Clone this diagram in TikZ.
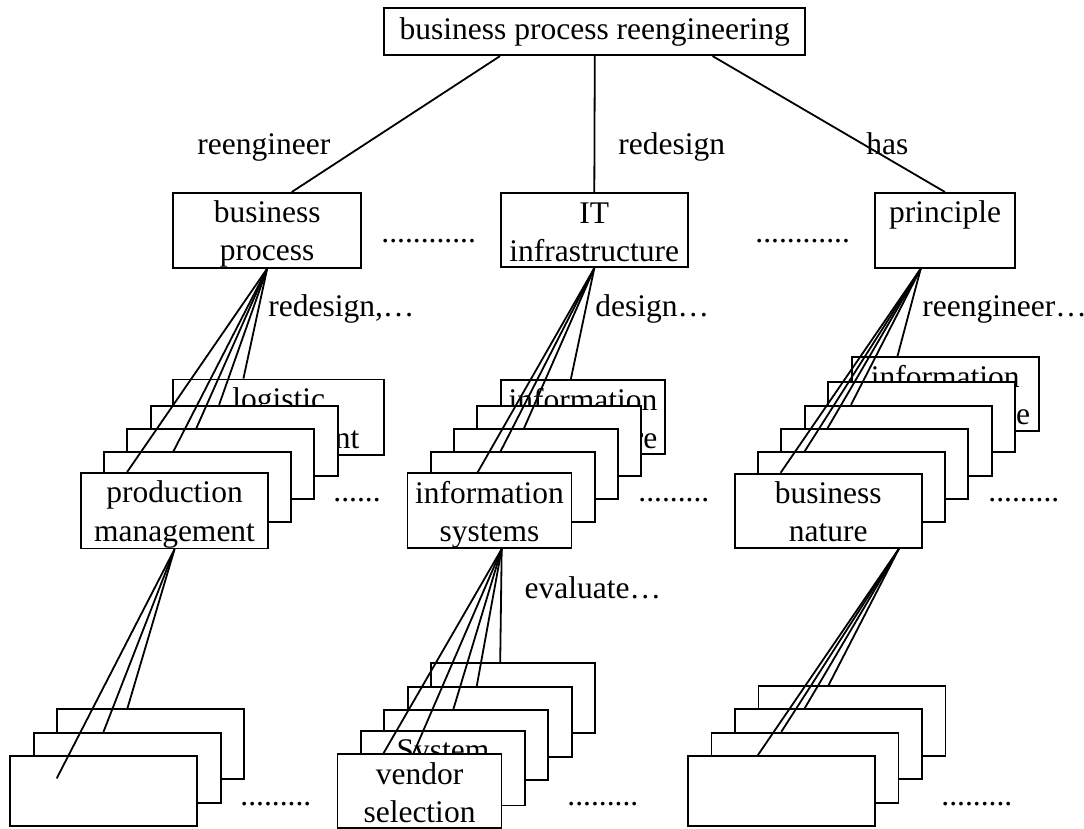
\documentclass[tikz,border=0pt]{standalone}
\usepackage{fontspec}
\setmainfont{Liberation Serif}
\usetikzlibrary{calc}
\newcommand\bs{\rule[-3pt]{0pt}{18pt}}
\tikzset{
  txt/.style={font=\fontsize{15.75pt}{17pt}\selectfont},
  box/.style={txt, draw, fill=white, line width=0.9pt, inner sep=0pt,
              minimum height=35pt, align=center},
  wa/.style={minimum width=93.5pt},
  wb/.style={minimum width=82pt},
  wc/.style={minimum width=105.5pt},
  lbl/.style={txt, inner sep=0pt, anchor=base west},
  conn/.style={line width=0.9pt},
}
\begin{document}
\begin{tikzpicture}[x=0.5pt,y=-0.5pt]
\useasboundingbox (0,0) rectangle (1084,829);
% top
\node[box, minimum width=210.5pt, minimum height=23.5pt] (top) at (594.8,31.7) {business process reengineering};
% level 2
\node[box, minimum width=94pt] (bp) at (267.2,230.3) {\bs business\\\bs process};
\node[box, minimum width=93.3pt] (it) at (594.3,230.3) {\bs IT\\\bs infrastructure};
\node[box, minimum width=70pt] (pr) at (945,230.3) {\bs principle\\\bs};
% level 3 left
\node[box, wc] (L1) at (278.8,417.3) {\bs logistic\\\bs management};
\node[box, wa] (L2) at (244.2,440.7) {};
\node[box, wa] (L3) at (220.8,464) {};
\node[box, wa] (L4) at (197.5,487.3) {};
\node[box, wa] (L5) at (174.5,510.7) {\bs production\\\bs management};
% level 3 middle
\node[box, wb] (M1) at (583,417.3) {\bs information\\\bs architecture};
\node[box, wb] (M2) at (559.3,440.7) {};
\node[box, wb] (M3) at (536.3,464) {};
\node[box, wb] (M4) at (512.7,487.3) {};
\node[box, wb] (M5) at (489.5,510.7) {\bs information\\\bs systems};
% level 3 right
\node[box, wa] (R1) at (945.3,394) {\bs information\\\bs infrastructure};
\node[box, wa] (R2) at (921.7,417.3) {};
\node[box, wa] (R3) at (898.7,440.7) {};
\node[box, wa] (R4) at (874.7,464) {};
\node[box, wa] (R5) at (851.7,487.3) {};
\node[box, wa] (R6) at (828.3,510.7) {\bs business\\\bs nature};
% level 4 left
\node[box, wa] (LL1) at (150.8,744.3) {};
\node[box, wa] (LL2) at (127.2,767.7) {};
\node[box, wa] (LL3) at (103.8,791) {};
% level 4 middle
\node[box, wb] (MM1) at (512.8,698.3) {};
\node[box, wb] (MM2) at (489.7,721.7) {};
\node[box, wb] (MM3) at (466.3,745) {};
\node[box, wb] (MM4) at (443,768) {\bs System\\\bs};
\node[box, wb] (MM5) at (419.5,791) {\bs vendor\\\bs selection};
% level 4 right
\node[box, wa] (RR1) at (852,721) {};
\node[box, wa] (RR2) at (828.3,744.3) {};
\node[box, wa] (RR3) at (805,767.7) {};
\node[box, wa] (RR4) at (781.7,791) {};
% labels
\node[lbl] (t1) at (197,155) {reengineer};
\node[lbl] (t2) at (618,155) {redesign};
\node[lbl] (t3) at (866,155) {has};
\node[lbl] (t4) at (268,317) {redesign,…};
\node[lbl] (t5) at (595,317) {design…};
\node[lbl] (t6) at (922,317) {reengineer…};
\node[lbl] (t7) at (524.3,598.3) {evaluate…};
% dots
\node[lbl] (d1) at (381,243) {............};
\node[lbl] (d2) at (755,243) {............};
\node[lbl] (d3) at (333,502) {......};
\node[lbl] (d4) at (638,502) {.........};
\node[lbl] (d5) at (988,502) {.........};
\node[lbl] (d6) at (240,805) {.........};
\node[lbl] (d7) at (567,805) {.........};
\node[lbl] (d8) at (941,805) {.........};
% connectors level 1-2
\draw[conn] ($(top.south)+(-94.8,0)$) -- ($(bp.north)+(24.5,0)$);
\draw[conn] (top.south) -- (it.north);
\draw[conn] ($(top.south)+(117.8,0)$) -- (pr.north);
% connectors level 2-3
\foreach \n/\o in {L1/71, L2/69.3, L3/70, L4/70.3, L5/47}
  \draw[conn] (bp.south) -- ($(\n.north west)+(\o,0)$);
\foreach \n/\o in {M1/70.7, M3/70.7, M4/70.7, M5/71}
  \draw[conn] (it.south) -- ($(\n.north west)+(\o,0)$);
\coordinate (pa) at ($(pr.south west)+(46.7,0)$);
\foreach \n/\o in {R1/46.6, R3/46.7, R4/47.3, R5/47.3, R6/46.7}
  \draw[conn] (pa) -- ($(\n.north west)+(\o,0)$);
% connectors level 3-4
\coordinate (f1) at ($(LL3.north west)+(47.3,23.3)$);
\foreach \n/\o in {LL1/71, LL2/70.7}
  \draw[conn] (L5.south) -- ($(\n.north west)+(\o,0)$);
\draw[conn] (L5.south) -- (f1);
\coordinate (ma) at ($(M5.south)+(12.2,0)$);
\foreach \n/\o in {MM1/70.3, MM2/70, MM3/70, MM5/77, MM5/47}
  \draw[conn] (ma) -- ($(\n.north west)+(\o,0)$);
\coordinate (ra) at ($(R6.south)+(70.7,0)$);
\foreach \n/\o in {RR1/71, RR2/70.7, RR3/70.7, RR4/70.6}
  \draw[conn] (ra) -- ($(\n.north west)+(\o,0)$);
\end{tikzpicture}
\end{document}
